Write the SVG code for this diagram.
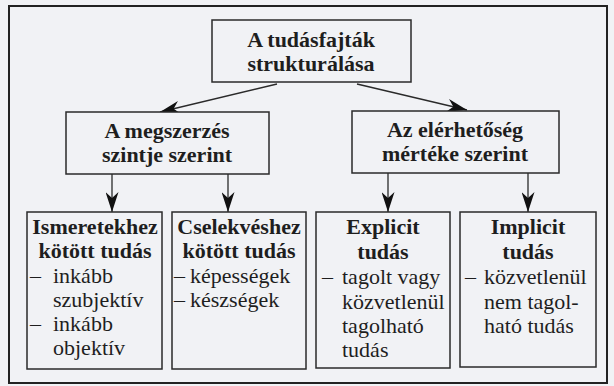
<svg xmlns="http://www.w3.org/2000/svg" width="614" height="386" viewBox="0 0 614 386">
<style>
.bg{fill:#f1f2f5}
.frame{fill:none;stroke:#222;stroke-width:2}
.box{fill:#f1f2f5;stroke:#2a2a2a;stroke-width:1.5}
.h{font-family:"Liberation Serif","Times New Roman",serif;font-weight:bold;font-size:22px;fill:#1e1e1e;text-anchor:middle}
.t{font-family:"Liberation Serif","Times New Roman",serif;font-size:22px;fill:#1e1e1e}
.c{fill:none;stroke:#2a2a2a;stroke-width:1.3}
</style>
<defs>
<marker id="ah" viewBox="0 0 20 13" refX="20" refY="6.5" markerWidth="20" markerHeight="13" markerUnits="userSpaceOnUse" orient="auto">
<path d="M0,0 L20,6.5 L0,13 L6,6.5 z" fill="#111"/>
</marker>
</defs>
<rect class="bg" x="0" y="0" width="614" height="386"/>
<rect class="frame" x="9" y="6" width="598" height="377"/>
<g id="connectors">
<line class="c" x1="277" y1="84" x2="160" y2="112" marker-end="url(#ah)"/>
<line class="c" x1="357" y1="84" x2="467" y2="110" marker-end="url(#ah)"/>
<line class="c" x1="112" y1="174" x2="112" y2="212" marker-end="url(#ah)"/>
<line class="c" x1="228" y1="174" x2="228" y2="212" marker-end="url(#ah)"/>
<line class="c" x1="388" y1="173" x2="388" y2="212" marker-end="url(#ah)"/>
<line class="c" x1="528" y1="173" x2="528" y2="212" marker-end="url(#ah)"/>
</g>
<g id="root">
<rect class="box" x="212" y="20" width="199" height="62"/>
<text class="h" x="311" y="47">A tudásfajták</text>
<text class="h" x="311" y="71">strukturálása</text>
</g>
<g id="acq">
<rect class="box" x="66" y="112" width="203" height="62"/>
<text class="h" x="167" y="138">A megszerzés</text>
<text class="h" x="167" y="162">szintje szerint</text>
</g>
<g id="avail">
<rect class="box" x="352" y="111" width="207" height="62"/>
<text class="h" x="455" y="137">Az elérhetőség</text>
<text class="h" x="455" y="161">mértéke szerint</text>
</g>
<g id="knowledge">
<rect class="box" x="27" y="212" width="135" height="157"/>
<text class="h" x="95" y="234">Ismeretekhez</text>
<text class="h" x="95" y="258">kötött tudás</text>
<text class="t" x="30" y="283">–</text><text class="t" x="53" y="283">inkább</text>
<text class="t" x="53" y="307">szubjektív</text>
<text class="t" x="30" y="331">–</text><text class="t" x="53" y="331">inkább</text>
<text class="t" x="53" y="355">objektív</text>
</g>
<g id="action">
<rect class="box" x="172" y="212" width="134" height="157"/>
<text class="h" x="239" y="234">Cselekvéshez</text>
<text class="h" x="239" y="258">kötött tudás</text>
<text class="t" x="174" y="283">–</text><text class="t" x="190" y="283">képességek</text>
<text class="t" x="174" y="307">–</text><text class="t" x="190" y="307">készségek</text>
</g>
<g id="explicit">
<rect class="box" x="316" y="212" width="134" height="156"/>
<text class="h" x="383" y="234">Explicit</text>
<text class="h" x="383" y="259">tudás</text>
<text class="t" x="322" y="284">–</text><text class="t" x="342" y="284">tagolt vagy</text>
<text class="t" x="342" y="309">közvetlenül</text>
<text class="t" x="342" y="333">tagolható</text>
<text class="t" x="342" y="357">tudás</text>
</g>
<g id="implicit">
<rect class="box" x="460" y="212" width="136" height="155"/>
<text class="h" x="528" y="234">Implicit</text>
<text class="h" x="528" y="259">tudás</text>
<text class="t" x="465" y="284">–</text><text class="t" x="484" y="284">közvetlenül</text>
<text class="t" x="484" y="309">nem tagol-</text>
<text class="t" x="484" y="333">ható tudás</text>
</g>
</svg>
